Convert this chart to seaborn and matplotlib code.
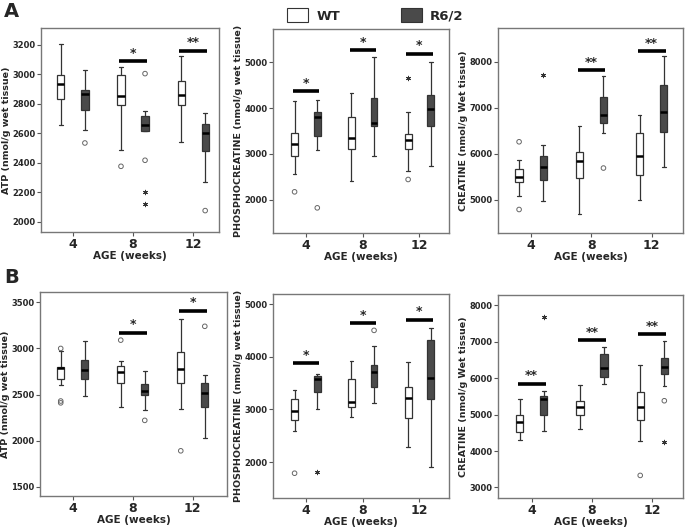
import matplotlib
matplotlib.use("Agg")
import matplotlib.pyplot as plt
from matplotlib.patches import Patch
import pandas as pd
import seaborn as sns

AGES = ["4", "8", "12"]
GENOS = ["WT", "R6/2"]
PAL = {"WT": "white", "R6/2": "#4a4a4a"}

# box stats per age: [low whisker, Q1, median, Q3, high whisker]
# --- A: ATP
atp_a_wt = [[2655, 2835, 2935, 2995, 3205], [2487, 2789, 2852, 2995, 3047], [2544, 2789, 2857, 2953, 3127]]
atp_a_r62 = [[2625, 2760, 2865, 2895, 3030], [2615, 2618, 2660, 2715, 2750], [2270, 2482, 2606, 2663, 2738]]
atp_a_circ = [("4", "R6/2", 2535), ("8", "WT", 2377), ("8", "R6/2", 3005), ("8", "R6/2", 2418), ("12", "R6/2", 2077)]
atp_a_star = [("8", "R6/2", 2200), ("8", "R6/2", 2122)]
atp_a_sig = [("8", 3090, "*"), ("12", 3160, "**")]

# --- A: phosphocreatine
pcr_a_wt = [[2560, 2950, 3220, 3450, 4150], [2400, 3100, 3340, 3810, 4320], [2620, 3100, 3310, 3430, 3910]]
pcr_a_r62 = [[3080, 3380, 3810, 3910, 4180], [2950, 3620, 3670, 4230, 5110], [2740, 3600, 3990, 4290, 5000]]
pcr_a_circ = [("4", "WT", 2170), ("4", "R6/2", 1820), ("12", "WT", 2440)]
pcr_a_star = [("12", "WT", 4650)]
pcr_a_sig = [("4", 4370, "*"), ("8", 5270, "*"), ("12", 5190, "*")]

# --- A: creatine
cre_a_wt = [[5080, 5380, 5490, 5660, 5860], [4700, 5480, 5840, 6030, 6600], [5000, 5530, 5960, 6460, 6850]]
cre_a_r62 = [[4980, 5430, 5720, 5960, 6180], [6440, 6670, 6840, 7230, 7690], [5720, 6470, 6910, 7500, 8120]]
cre_a_circ = [("4", "WT", 6260), ("4", "WT", 4790), ("8", "R6/2", 5690)]
cre_a_star = [("4", "R6/2", 7700)]
cre_a_sig = [("8", 7820, "**"), ("12", 8220, "**")]

# --- B: ATP
atp_b_wt = [[2600, 2670, 2790, 2800, 2970], [2370, 2620, 2740, 2810, 2860], [2340, 2620, 2780, 2960, 3320]]
atp_b_r62 = [[2480, 2670, 2770, 2870, 3080], [2330, 2490, 2540, 2610, 2750], [2030, 2370, 2520, 2620, 2710]]
atp_b_circ = [("4", "WT", 3000), ("4", "WT", 2430), ("4", "WT", 2410), ("8", "WT", 3090),
              ("8", "R6/2", 2220), ("12", "WT", 1890), ("12", "R6/2", 3240)]
atp_b_star = []
atp_b_sig = [("8", 3170, "*"), ("12", 3410, "*")]

# --- B: phosphocreatine
pcr_b_wt = [[2600, 2800, 2970, 3190, 3370], [2850, 3040, 3150, 3580, 3910], [2290, 2830, 3210, 3430, 3900]]
pcr_b_r62 = [[3010, 3330, 3570, 3630, 3680], [3120, 3430, 3710, 3840, 4200], [1910, 3190, 3590, 4320, 4550]]
pcr_b_circ = [("4", "WT", 1790), ("8", "R6/2", 4500)]
pcr_b_star = [("4", "R6/2", 1810)]
pcr_b_sig = [("4", 3880, "*"), ("8", 4640, "*"), ("12", 4700, "*")]

# --- B: creatine
cre_b_wt = [[4290, 4510, 4800, 4990, 5430], [4600, 5000, 5210, 5380, 5810], [4270, 4860, 5210, 5610, 6360]]
cre_b_r62 = [[4560, 4990, 5420, 5500, 5660], [5850, 6020, 6270, 6650, 6860], [5780, 6110, 6310, 6540, 7010]]
cre_b_circ = [("12", "WT", 3330), ("12", "R6/2", 5380)]
cre_b_star = [("4", "R6/2", 7680), ("12", "R6/2", 4250)]
cre_b_sig = [("4", 5850, "**"), ("8", 7050, "**"), ("12", 7210, "**")]

YL_ATP = "ATP (nmol/g wet tissue)"
YL_PCR = "PHOSPHOCREATINE (nmol/g wet tissue)"
YL_CRE = "CREATINE (nmol/g Wet tissue)"

# layout: axes frame in pixels (left, top, right, bottom)
PANELS = [
    (atp_a_wt, atp_a_r62, atp_a_circ, atp_a_star, atp_a_sig, YL_ATP,
     range(2000, 3201, 200), (1932, 3314), (41, 28, 219, 232), (-0.53, 2.43)),
    (pcr_a_wt, pcr_a_r62, pcr_a_circ, pcr_a_star, pcr_a_sig, YL_PCR,
     range(2000, 5001, 1000), (1270, 5730), (273, 29, 449, 233), (-0.58, 2.52)),
    (cre_a_wt, cre_a_r62, cre_a_circ, cre_a_star, cre_a_sig, YL_CRE,
     range(5000, 8001, 1000), (4280, 8730), (498, 28, 683, 233), (-0.55, 2.52)),
    (atp_b_wt, atp_b_r62, atp_b_circ, atp_b_star, atp_b_sig, YL_ATP,
     range(1500, 3501, 500), (1400, 3612), (40, 292, 227, 496), (-0.545, 2.57)),
    (pcr_b_wt, pcr_b_r62, pcr_b_circ, pcr_b_star, pcr_b_sig, YL_PCR,
     range(2000, 5001, 1000), (1320, 5190), (273, 294, 449, 498), (-0.58, 2.52)),
    (cre_b_wt, cre_b_r62, cre_b_circ, cre_b_star, cre_b_sig, YL_CRE,
     range(3000, 8001, 1000), (2710, 8283), (498, 295, 683, 498), (-0.56, 2.51)),
]

W, H = 685, 530

sns.set_style("ticks")
plt.rcParams["font.family"] = ["DejaVu Sans"]


def box_frame(wt, r62):
    rows = []
    for geno, stats in (("WT", wt), ("R6/2", r62)):
        for age, vals in zip(AGES, stats):
            for v in vals:
                rows.append({"age": age, "geno": geno, "value": v})
    return pd.DataFrame(rows)


def pts_frame(pts):
    return pd.DataFrame(pts, columns=["age", "geno", "value"])


def draw_points(ax, pts, marker, size, hollow):
    if not pts:
        return
    n0 = len(ax.collections)
    sns.stripplot(data=pts_frame(pts), x="age", y="value", hue="geno",
                  order=AGES, hue_order=GENOS, palette=PAL, dodge=True,
                  jitter=False, marker=marker, size=size, linewidth=0.7,
                  edgecolor="#555555", legend=False, ax=ax)
    for c in ax.collections[n0:]:
        if hollow:
            c.set_facecolor("none")
            c.set_edgecolor("#666666")
        else:
            c.set_facecolor("#333333")
            c.set_edgecolor("#333333")


fig = plt.figure(figsize=(W / 100, H / 100), dpi=100)

for wt, r62, circ, star, sig, ylabel, yticks, ylim, rect, xlim in PANELS:
    l, t, r, b = rect
    ax = fig.add_axes([l / W, 1 - b / H, (r - l) / W, (b - t) / H])
    sns.boxplot(data=box_frame(wt, r62), x="age", y="value", hue="geno",
                order=AGES, hue_order=GENOS, palette=PAL, saturation=1,
                width=0.8, gap=0.7, whis=(0, 100), linecolor="#333333",
                linewidth=0.9, medianprops=dict(color="black", linewidth=1.8),
                legend=False, ax=ax)
    draw_points(ax, circ, "o", 3.3, True)
    draw_points(ax, star, (6, 2, 0), 3.2, False)

    for age, y, txt in sig:
        i = AGES.index(age)
        ax.plot([i - 0.23, i + 0.23], [y, y], color="black", lw=2.6,
                solid_capstyle="butt", zorder=4)
        ax.annotate(txt, (i, y), xytext=(0, 1), textcoords="offset points",
                    ha="center", va="bottom", fontsize=9, fontweight="bold")

    ax.set_xlim(*xlim)
    ax.set_ylim(*ylim)
    ax.set_yticks(list(yticks))
    ax.set_ylabel(ylabel, fontsize=6.8, fontweight="bold", labelpad=1)
    ax.set_xlabel("AGE (weeks)", fontsize=7.5, fontweight="bold", labelpad=0)
    ax.tick_params(axis="y", labelsize=6, length=3, width=0.8, pad=1, color="#555555")
    ax.tick_params(axis="x", labelsize=9, length=3, width=0.8, pad=1, color="#555555")
    for lab in ax.get_xticklabels() + ax.get_yticklabels():
        lab.set_fontweight("bold")
    for sp in ax.spines.values():
        sp.set_visible(True)
        sp.set_color("#777777")
        sp.set_linewidth(1.0)

fig.text(4 / W, 1 - 2 / H, "A", fontsize=14, fontweight="bold", va="top")
fig.text(4 / W, 1 - 268 / H, "B", fontsize=14, fontweight="bold", va="top")

handles = [Patch(facecolor=PAL[g], edgecolor="#333333", linewidth=0.8) for g in GENOS]
leg = fig.legend(handles, GENOS, loc="upper center", bbox_to_anchor=(0.548, 1.0),
                 ncol=2, frameon=False, handlelength=1.6, handleheight=1.3,
                 columnspacing=4.6, handletextpad=0.6, borderpad=0.1,
                 prop={"size": 9.5, "weight": "bold"})

fig.savefig("out.png", dpi=100)
